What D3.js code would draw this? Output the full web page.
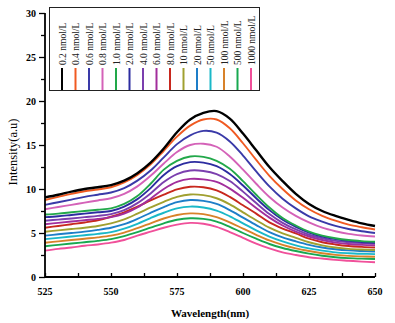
<!DOCTYPE html>
<html><head><meta charset="utf-8">
<script src="https://cdn.jsdelivr.net/npm/d3@7"></script>
<style>body{margin:0;background:#fff}svg{display:block}</style>
</head><body>
<svg id="c" width="395" height="323"></svg>
<script>
const wavelengths = [525,530,535,540,545,550,555,560,565,570,575,580,585,590,595,600,605,610,615,620,625,630,635,640,645,650];
const seriesNames = ["0.2 nmol/L","0.4 nmol/L","0.6 nmol/L","0.8 nmol/L","1.0 nmol/L","2.0 nmol/L","4.0 nmol/L","6.0 nmol/L","8.0 nmol/L","10 nmol/L","20 nmol/L","50 nmol/L","100 nmol/L","500 nmol/L","1000 nmol/L"];
const seriesColors = ["#000000","#f05a22","#3a3aa8","#d462b8","#22a84a","#2c2ca0","#7b3fae","#a22e9c","#c8281e","#a0a030","#1e7ec8","#1ab8c8","#d8822a","#18a850","#f0509a"];
const s0 = [9.05,9.35,9.7,10.0,10.2,10.45,10.95,11.8,13.0,14.6,16.45,17.9,18.65,18.85,18.0,16.3,14.4,12.5,10.9,9.45,8.3,7.5,6.95,6.5,6.1,5.8];
const s1 = [8.75,9.1,9.45,9.75,9.95,10.2,10.75,11.6,12.8,14.35,15.95,17.2,17.9,17.9,16.9,15.2,13.3,11.5,10.0,8.7,7.7,6.95,6.4,5.95,5.65,5.4];
const s2 = [8.2,8.5,8.8,9.1,9.35,9.6,10.1,10.95,12.1,13.6,15.1,16.1,16.6,16.4,15.4,13.8,12.0,10.3,8.9,7.8,6.9,6.3,5.8,5.45,5.2,5.0];
const s3 = [7.7,7.95,8.2,8.45,8.7,8.95,9.45,10.3,11.5,12.9,14.2,15.0,15.15,14.8,13.7,12.2,10.6,9.1,7.9,6.95,6.2,5.6,5.2,4.9,4.72,4.6];
const s4 = [7.1,7.2,7.35,7.5,7.65,7.8,8.3,9.2,10.6,12.2,13.2,13.7,13.65,13.2,12.3,10.9,9.35,7.9,6.7,5.85,5.15,4.7,4.4,4.2,4.08,4.0];
const s5 = [6.8,6.9,7.05,7.2,7.35,7.5,8.0,8.85,10.1,11.6,12.6,13.05,13.0,12.6,11.7,10.4,8.95,7.6,6.5,5.7,5.05,4.6,4.3,4.1,3.98,3.9];
const s6 = [6.4,6.52,6.65,6.8,6.95,7.15,7.6,8.4,9.5,10.8,11.7,12.1,12.05,11.7,10.9,9.7,8.4,7.15,6.15,5.4,4.8,4.4,4.1,3.95,3.85,3.8];
const s7 = [6.0,6.15,6.3,6.45,6.6,6.8,7.2,7.9,8.9,10.0,10.8,11.15,11.1,10.8,10.05,9.0,7.85,6.75,5.85,5.15,4.6,4.2,3.9,3.75,3.65,3.6];
const s8 = [5.6,5.8,6.0,6.2,6.45,6.85,7.35,8.0,8.7,9.35,9.95,10.25,10.2,9.85,9.1,8.15,7.2,6.2,5.5,4.95,4.35,3.95,3.7,3.52,3.42,3.35];
const s9 = [5.15,5.3,5.45,5.6,5.8,6.1,6.55,7.2,7.9,8.55,9.1,9.38,9.3,8.95,8.25,7.35,6.45,5.6,4.95,4.45,3.95,3.6,3.35,3.2,3.12,3.07];
const s10 = [4.7,4.85,5.0,5.15,5.35,5.6,6.0,6.6,7.3,7.95,8.5,8.75,8.65,8.3,7.6,6.75,5.9,5.1,4.5,4.05,3.65,3.35,3.15,3.02,2.95,2.9];
const s11 = [4.3,4.45,4.6,4.75,4.9,5.1,5.5,6.05,6.7,7.3,7.8,8.0,7.9,7.55,6.9,6.1,5.3,4.6,4.05,3.6,3.25,3.0,2.8,2.7,2.64,2.6];
const s12 = [3.9,4.05,4.2,4.35,4.5,4.7,5.05,5.55,6.1,6.65,7.05,7.23,7.15,6.8,6.2,5.5,4.8,4.15,3.65,3.25,2.95,2.7,2.52,2.4,2.34,2.3];
const s13 = [3.5,3.65,3.8,3.95,4.1,4.3,4.65,5.1,5.6,6.1,6.5,6.67,6.6,6.3,5.7,5.0,4.35,3.75,3.3,2.95,2.65,2.42,2.25,2.15,2.09,2.05];
const s14 = [3.0,3.2,3.35,3.55,3.7,3.9,4.2,4.7,5.15,5.6,5.95,6.15,6.05,5.7,5.1,4.45,3.8,3.25,2.8,2.5,2.25,2.1,1.95,1.85,1.75,1.67];
const seriesValues = [s0,s1,s2,s3,s4,s5,s6,s7,s8,s9,s10,s11,s12,s13,s14];
const xTicks = [525,550,575,600,625,650];
const yTicks = [0,5,10,15,20,25,30];

const svg = d3.select("#c");
const x = d3.scaleLinear().domain([525,650]).range([45,375]);
const y = d3.scaleLinear().domain([0,30]).range([277,13]);

const line = d3.line().x((d,i)=>x(wavelengths[i])).y(d=>y(d)).curve(d3.curveCatmullRom.alpha(0.5));
const order = d3.range(seriesValues.length).reverse();
svg.append("g").selectAll("path").data(order).join("path")
  .attr("d", i=>line(seriesValues[i]))
  .attr("fill","none")
  .attr("stroke", i=>seriesColors[i])
  .attr("stroke-width", i=> i===0 ? 2.4 : 1.9)
  .attr("stroke-linejoin","round");

const xAxisG = svg.append("g").attr("transform","translate(0,277)");
xAxisG.call(d3.axisBottom(x).tickValues(d3.range(525,651,12.5)).tickSize(-4).tickFormat(""));
xAxisG.select(".domain").attr("stroke","#000").attr("stroke-width",1.8).attr("d","M45,0H375");
xAxisG.selectAll(".tick line").attr("stroke","#000").attr("stroke-width",1.3);
svg.append("g").selectAll("text").data(xTicks).join("text")
  .attr("x", d=>x(d)).attr("y",295)
  .attr("text-anchor","middle")
  .attr("font-family","'Liberation Serif','DejaVu Serif',serif")
  .attr("font-weight","bold").attr("font-size",10)
  .text(d=>d);

const yAxisG = svg.append("g").attr("transform","translate(45,0)");
yAxisG.call(d3.axisLeft(y).tickValues(d3.range(0,30.1,2.5)).tickSize(3).tickFormat(""));
yAxisG.select(".domain").attr("stroke","#000").attr("stroke-width",1.8).attr("d","M0,277V13");
yAxisG.selectAll(".tick line").attr("stroke","#000").attr("stroke-width",1.3)
  .attr("x2", d=> (d%5===0) ? -6 : -4);
svg.append("g").selectAll("text").data(yTicks).join("text")
  .attr("x",36).attr("y",d=>y(d)+3.5)
  .attr("text-anchor","end")
  .attr("font-family","'Liberation Serif','DejaVu Serif',serif")
  .attr("font-weight","bold").attr("font-size",10)
  .text(d=>d);

svg.append("text").attr("x",210).attr("y",317).attr("text-anchor","middle")
  .attr("font-family","'Liberation Serif','DejaVu Serif',serif").attr("font-weight","bold").attr("font-size",11)
  .text("Wavelength(nm)");
svg.append("text").attr("transform","translate(17,152) rotate(-90)").attr("text-anchor","middle")
  .attr("font-family","'Liberation Serif','DejaVu Serif',serif").attr("font-size",12.5)
  .text("Intensity(a.u)");

const lg = svg.append("g");
lg.append("rect").attr("x",49.5).attr("y",7.5).attr("width",210).attr("height",83)
  .attr("fill","#fff").attr("stroke","#222").attr("stroke-width",1);
const items = lg.selectAll("g.item").data(seriesNames).join("g").attr("class","item")
  .attr("transform",(d,i)=>`translate(${62+13.5*i},0)`);
items.append("line").attr("x1",0).attr("x2",0).attr("y1",68).attr("y2",90)
  .attr("stroke",(d,i)=>seriesColors[i]).attr("stroke-width",2);
items.append("text").attr("transform","translate(3.5,65) rotate(-90)")
  .attr("font-family","'Liberation Serif','DejaVu Serif',serif").attr("font-size",9.5)
  .attr("fill","#222")
  .text(d=>d);
</script>
</body></html>
